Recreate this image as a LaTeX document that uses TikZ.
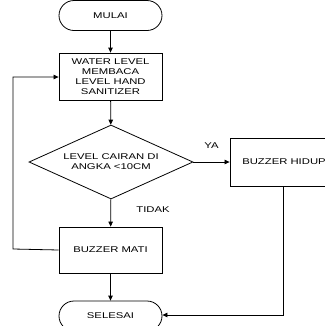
\documentclass[tikz,border=0pt]{standalone}
\usepackage{fontspec}
\setmainfont{Liberation Sans}[FakeStretch=1.35]
\usepackage{tikz}
\usetikzlibrary{arrows.meta,positioning,shapes.geometric,shapes.misc}

\begin{document}
\begin{tikzpicture}[x=1bp,y=-1bp,
    every node/.style={font=\fontsize{8.4}{10}\selectfont, align=center, line width=0.8pt},
    terminal/.style={draw, rounded rectangle, minimum width=103bp, minimum height=30bp, inner sep=0pt},
    prosesbox/.style={draw, rectangle, minimum width=103bp, inner sep=0pt},
    cekbox/.style={draw, diamond, aspect=2.2, minimum width=164bp, minimum height=74bp, inner sep=0pt},
    alur/.style={line width=0.8pt, -{Triangle[length=5bp,width=4.5bp]}},
    garis/.style={line width=0.8pt}]
    \clip (0,0) rectangle (325,326);

    \node[terminal] (mulai) at (110.5,15.5) {MULAI};
    \node[prosesbox, minimum height=47bp] (baca) at (110.5,76.5)
        {WATER LEVEL\\MEMBACA\\LEVEL HAND\\SANITIZER};
    \node[cekbox] (cek) at (111,162) {LEVEL CAIRAN DI\\ANGKA <10CM};
    \node[prosesbox, minimum width=108bp, minimum height=48bp] (hidup) at (284,162) {BUZZER HIDUP};
    \node[prosesbox, minimum height=46bp] (mati) at (110.5,250) {BUZZER MATI};
    \node[terminal] (selesai) at (110.5,316) {SELESAI};

    \coordinate (kiriA) at (13,249);
    \coordinate (kiriB) at (13,77);
    \coordinate (hidupB) at (283,186);
    \coordinate (hidupC) at (283,315);

    \draw[alur] (mulai) -- (baca);
    \draw[alur] (baca) -- (cek);
    \draw[alur] (cek) -- (hidup) node[pos=0.5, above=10bp] {YA};
    \draw[alur] (cek) -- (mati) node[pos=0.36, right=22bp] {TIDAK};
    \draw[alur] (mati) -- (selesai);
    \draw[alur] (mati.west) -- (kiriA) -- (kiriB) -- (baca.west |- kiriB);
    \draw[alur] (hidupB) -- (hidupC) -- (selesai.east |- hidupC);
\end{tikzpicture}
\end{document}
